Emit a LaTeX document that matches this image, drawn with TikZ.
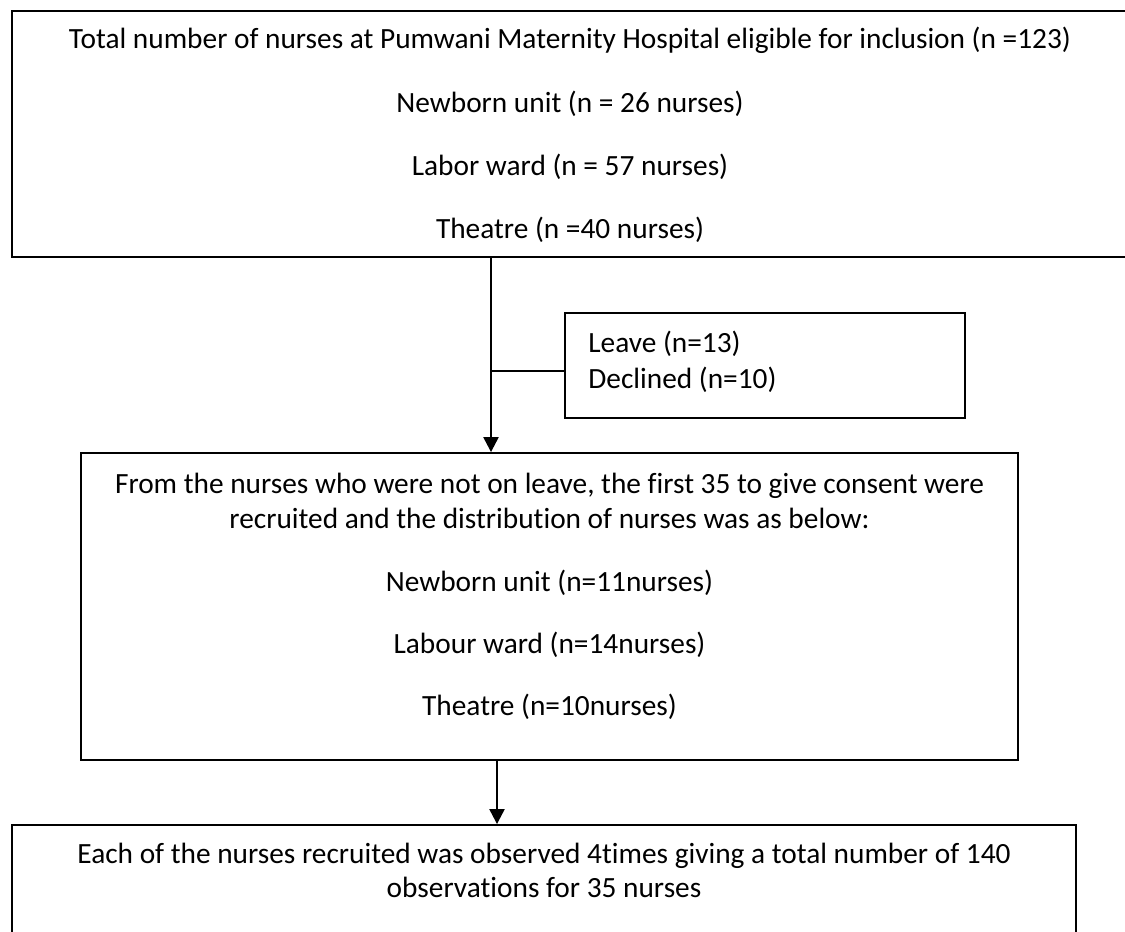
\documentclass[tikz,border=0pt]{standalone}
\usepackage{fontspec}
\setmainfont{Carlito}[Ligatures=NoCommon]
\usetikzlibrary{arrows.meta}
\tikzset{
  box/.style={draw, line width=1.1pt, inner sep=0pt},
  txt/.style={anchor=base, inner sep=0pt, font=\fontsize{16.7}{20}\selectfont},
  arr/.style={-{Triangle[width=0.3cm,length=0.3cm]}, line width=1.3pt}
}
\begin{document}
\begin{tikzpicture}[x=0.02cm, y=-0.02cm]
    \useasboundingbox (0,0) rectangle (1125,931);

    % Dibuja las cajas
    \node[box, minimum width=22.46cm, minimum height=4.92cm] (total) at (573.5,134) {};
    \node[box, minimum width=8cm, minimum height=2.1cm] (excl) at (765,365.5) {};
    \node[box, minimum width=18.74cm, minimum height=6.14cm] (recruit) at (549.5,606.5) {};
    \node[box, minimum width=21.28cm, minimum height=2.7cm] (obs) at (544,892.5) {};

    % Textos de la primera caja
    \node[txt] (tot1) at (570,48) {Total number of nurses at Pumwani Maternity Hospital eligible for inclusion (n =123)};
    \node[txt] (tot2) at (570,112) {Newborn unit (n = 26 nurses)};
    \node[txt] (tot3) at (570,175) {Labor ward (n = 57 nurses)};
    \node[txt] (tot4) at (570,238) {Theatre (n =40 nurses)};

    % Excluidos
    \node[txt, anchor=base west] (exc1) at (588,352) {Leave (n=13)};
    \node[txt, anchor=base west] (exc2) at (588,388) {Declined (n=10)};

    % Textos de la segunda caja
    \node[txt] (rec1) at (549.5,493) {From the nurses who were not on leave, the first 35 to give consent were};
    \node[txt] (rec2) at (549.5,528) {recruited and the distribution of nurses was as below:};
    \node[txt] (rec3) at (549.5,591) {Newborn unit (n=11nurses)};
    \node[txt] (rec4) at (549.5,653) {Labour ward (n=14nurses)};
    \node[txt] (rec5) at (549.5,715) {Theatre (n=10nurses)};

    % Textos de la tercera caja
    \node[txt] (obs1) at (544,863) {Each of the nurses recruited was observed 4times giving a total number of 140};
    \node[txt] (obs2) at (544,897) {observations for 35 nurses};

    % Flechas
    \coordinate (a1) at (491,0);
    \coordinate (a2) at (497,0);
    \coordinate (branch) at ([yshift=-0.11cm]excl.west);
    \draw[arr] (a1 |- total.south) -- (a1 |- recruit.north);
    \draw[line width=1.1pt] (branch) -- (a1 |- branch);
    \draw[arr] (a2 |- recruit.south) -- (a2 |- obs.north);
\end{tikzpicture}
\end{document}
